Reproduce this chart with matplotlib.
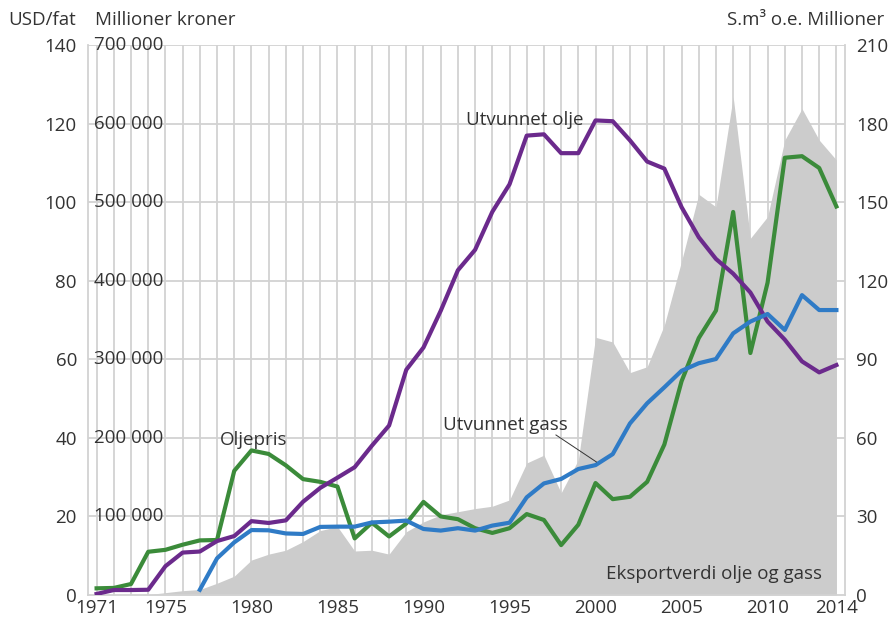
import matplotlib
matplotlib.use("Agg")
import matplotlib.pyplot as plt
import matplotlib.transforms as mtransforms

plt.rcParams['font.family'] = ['Open Sans', 'DejaVu Sans']

years = list(range(1971, 2015))

oljepris = [1.7, 1.8, 2.8, 11.0, 11.5, 12.8, 13.9, 14.0, 31.6, 36.8,
            35.9, 33.0, 29.5, 28.8, 27.6, 14.4, 18.4, 14.9, 18.2, 23.7,
            20.0, 19.3, 17.0, 15.8, 17.0, 20.6, 19.1, 12.7, 17.9, 28.5,
            24.4, 25.0, 28.8, 38.3, 54.4, 65.4, 72.4, 97.5, 61.6, 79.5,
            111.3, 111.7, 108.7, 98.9]

utvunnet_olje = [0.4, 1.9, 1.9, 2.0, 11.0, 16.2, 16.6, 20.6, 22.5, 28.2,
                 27.5, 28.5, 35.6, 40.9, 44.8, 48.8, 57.0, 64.7, 86.0, 94.5,
                 108.5, 124.0, 131.8, 146.3, 156.8, 175.4, 175.9, 168.7, 168.7, 181.2,
                 180.9, 173.6, 165.5, 162.8, 148.1, 136.6, 128.3, 122.7, 115.5, 104.4,
                 97.5, 89.2, 85.0, 87.8]

gass_years = list(range(1977, 2015))
utvunnet_gass = [2.0, 14.0, 20.1, 24.8, 24.7, 23.5, 23.3, 26.0, 26.1, 26.1,
                 27.7, 28.0, 28.4, 25.2, 24.6, 25.5, 24.6, 26.5, 27.6, 37.3,
                 42.6, 44.3, 48.1, 49.6, 53.8, 65.5, 73.2, 79.3, 85.6, 88.5,
                 90.1, 99.9, 104.4, 107.3, 101.2, 114.5, 108.8, 108.8]

eksportverdi = [0, 0, 0, 500, 3000, 5500, 7000, 15000, 24000, 44500,
                52000, 57000, 68000, 82000, 87000, 56000, 57000, 52000, 80500, 93000,
                102000, 106000, 110000, 113000, 121000, 168000, 178000, 130000, 172000, 328000,
                322000, 283000, 290500, 343600, 425000, 510000, 494000, 634000, 454000, 481500,
                579000, 619000, 579000, 553600]

usd_ticks = [0, 20, 40, 60, 80, 100, 120, 140]
kroner_ticks = [100000, 200000, 300000, 400000, 500000, 600000, 700000]
kroner_labels = ['100 000', '200 000', '300 000', '400 000', '500 000', '600 000', '700 000']
sm3_ticks = [0, 30, 60, 90, 120, 150, 180, 210]
x_ticks = [1971, 1975, 1980, 1985, 1990, 1995, 2000, 2005, 2010, 2014]

c_green = '#3b8b3a'
c_purple = '#6b2a8c'
c_blue = '#2f7bc6'
c_fill = '#cccccc'
c_grid = '#d2d2d2'
c_text = '#333333'
fs = 13.5

fig = plt.figure(figsize=(8.89, 6.19), dpi=100)
ax = fig.add_axes([88/889, 24/619, (845-88)/889, (595-45)/619])
ax.set_xlim(1970.5, 2014.5)
ax.set_ylim(0, 140)

# gridlines
for y in usd_ticks[1:]:
    ax.axhline(y, color=c_grid, lw=1.3, zorder=0)
for x in years:
    ax.axvline(x, color=c_grid, lw=1.3, zorder=0)

# export value area (kroner -> USD axis scale, 700000 == 140)
ax.fill_between(years, [v / 5000 for v in eksportverdi], 0, color=c_fill, lw=0, zorder=1)

ax.plot(years, oljepris, color=c_green, lw=3, zorder=3)

ax.set_yticks(usd_ticks)
ax.set_yticklabels([str(v) for v in usd_ticks])
ax.set_xticks(x_ticks)
ax.set_xticklabels([str(v) for v in x_ticks])
ax.tick_params(axis='both', length=0, labelsize=fs, colors=c_text)
ax.tick_params(axis='y', pad=8)
ax.tick_params(axis='x', pad=3)
ax.spines['top'].set_visible(False)
for s in ['left', 'right', 'bottom']:
    ax.spines[s].set_color(c_grid)
    ax.spines[s].set_linewidth(1.3)

ax2 = ax.twinx()
ax2.set_ylim(0, 210)
ax2.plot(years, utvunnet_olje, color=c_purple, lw=3, zorder=3)
ax2.plot(gass_years, utvunnet_gass, color=c_blue, lw=3, zorder=3)
ax2.set_yticks(sm3_ticks)
ax2.set_yticklabels([str(v) for v in sm3_ticks])
ax2.tick_params(axis='y', length=0, labelsize=fs, colors=c_text, pad=8)
for s in ax2.spines.values():
    s.set_visible(False)

# kroner labels
tr = mtransforms.blended_transform_factory(fig.transFigure, ax.transData)
for v, lab in zip(kroner_ticks, kroner_labels):
    ax.text(163/889, v / 5000, lab, transform=tr, ha='right', va='center',
            fontsize=fs, color=c_text, zorder=5)

# axis titles
fig.text(8/889, 1 - 20/619, 'USD/fat', ha='left', va='center', fontsize=fs, color=c_text)
fig.text(95/889, 1 - 20/619, 'Millioner kroner', ha='left', va='center', fontsize=fs, color=c_text)
fig.text(884/889, 1 - 20/619, 'S.m³ o.e. Millioner', ha='right', va='center', fontsize=fs, color=c_text)

# annotations
ax.text(1980.1, 39.5, 'Oljepris', ha='center', va='center', fontsize=fs, color=c_text, zorder=6)
ax2.text(1995.9, 181.5, 'Utvunnet olje', ha='center', va='center', fontsize=fs, color=c_text, zorder=6)
ax2.text(1994.75, 65, 'Utvunnet gass', ha='center', va='center', fontsize=fs, color=c_text, zorder=6)
ax2.plot([1997.7, 2000.05], [61.1, 50.8], color='#333333', lw=0.7, zorder=6)
ax.text(2013.15, 5.3, 'Eksportverdi olje og gass', ha='right', va='center', fontsize=fs, color=c_text, zorder=6)

fig.savefig('out.png', dpi=100)
